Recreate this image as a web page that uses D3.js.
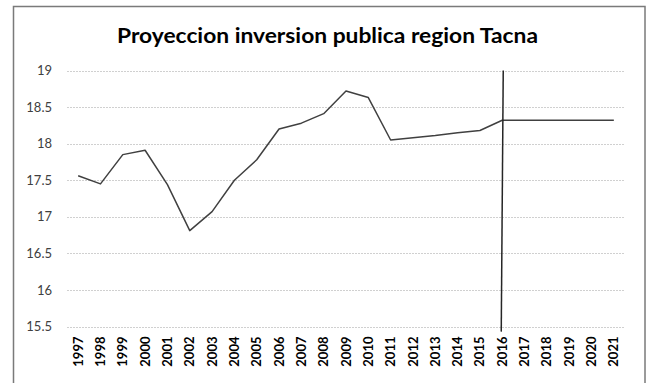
<!DOCTYPE html>
<html>
<head>
<meta charset="utf-8">
<script src="https://cdn.jsdelivr.net/npm/d3@7"></script>
<style>
  html, body { margin: 0; padding: 0; background: #fff; }
  svg { display: block; }
</style>
</head>
<body>
<svg id="chart" width="648" height="383"></svg>
<script>
// Years on the category axis
const years = ["1997","1998","1999","2000","2001","2002","2003","2004","2005","2006","2007","2008","2009",
               "2010","2011","2012","2013","2014","2015","2016","2017","2018","2019","2020","2021"];
// Public investment (log scale values) per year, with the projection held flat after 2016
const inversion = [17.56, 17.45, 17.85, 17.91, 17.44, 16.81, 17.07, 17.50, 17.78, 18.20, 18.28, 18.41, 18.72,
                   18.63, 18.05, 18.08, 18.11, 18.15, 18.18, 18.32, 18.32, 18.32, 18.32, 18.32, 18.32];
// Marker separating history from projection
const cutYear = "2016";
const cutRange = [19, 15.43];
// Value axis ticks
const yTicks = [15.5, 16, 16.5, 17, 17.5, 18, 18.5, 19];
const title = "Proyeccion inversion publica region Tacna";

const svg = d3.select("#chart");
const plotLeft = 67, plotRight = 625, plotTop = 70.5, plotBottom = 326.5;

// outer chart frame
svg.append("rect")
  .attr("x", 13.5).attr("y", 6.5)
  .attr("width", 631.5).attr("height", 400)
  .attr("fill", "#fff").attr("stroke", "#7a7a7a").attr("stroke-width", 1.5);

const x = d3.scaleBand().domain(years).range([plotLeft, plotRight]);
const y = d3.scaleLinear().domain([15.5, 19]).range([plotBottom, plotTop]);

// horizontal gridlines
svg.append("g").selectAll("line").data(yTicks).join("line")
  .attr("x1", plotLeft).attr("x2", plotRight)
  .attr("y1", d => Math.round(y(d)) + 0.5).attr("y2", d => Math.round(y(d)) + 0.5)
  .attr("stroke", "#d0d0d0").attr("stroke-width", 1)
  .attr("stroke-dasharray", "2,1");

// y axis labels
const yAxis = d3.axisLeft(y).tickValues(yTicks).tickSize(0).tickPadding(0)
  .tickFormat(d => String(d));
const gy = svg.append("g").attr("transform", `translate(${plotLeft - 15},0)`).call(yAxis);
gy.select(".domain").remove();
gy.selectAll("text")
  .attr("font-family", "Lato, 'Open Sans', sans-serif")
  .attr("font-size", 13).attr("fill", "#404040");

// x axis labels, rotated
const xAxis = d3.axisBottom(x).tickSize(0).tickPadding(0);
const gx = svg.append("g").attr("transform", `translate(0,${plotBottom})`).call(xAxis);
gx.select(".domain").remove();
gx.selectAll("text")
  .attr("font-family", "Lato, 'Open Sans', sans-serif")
  .attr("font-size", 13).attr("font-weight", "bold").attr("fill", "#000")
  .attr("text-anchor", "end")
  .attr("dy", "0.35em")
  .attr("transform", "translate(0,10) rotate(-90)")
  .attr("x", 0).attr("y", 0);

// series line
const line = d3.line()
  .x((d, i) => x(years[i]) + x.bandwidth() / 2)
  .y(d => y(d));
svg.append("path").datum(inversion)
  .attr("d", line)
  .attr("fill", "none").attr("stroke", "#404040").attr("stroke-width", 1.5)
  .attr("stroke-linejoin", "round");

// vertical cut line at the last observed year
const cx = x(cutYear) + x.bandwidth() / 2;
svg.append("line")
  .attr("x1", cx + 1).attr("x2", cx - 1)
  .attr("y1", y(cutRange[0])).attr("y2", y(cutRange[1]))
  .attr("stroke", "#262626").attr("stroke-width", 1.5);

// title
svg.append("text")
  .attr("x", 327.5).attr("y", 42.5)
  .attr("text-anchor", "middle")
  .attr("font-family", "Lato, 'Open Sans', sans-serif")
  .attr("font-size", 20).attr("font-weight", "bold").attr("fill", "#000")
  .attr("textLength", 421).attr("lengthAdjust", "spacingAndGlyphs")
  .text(title);
</script>
</body>
</html>
